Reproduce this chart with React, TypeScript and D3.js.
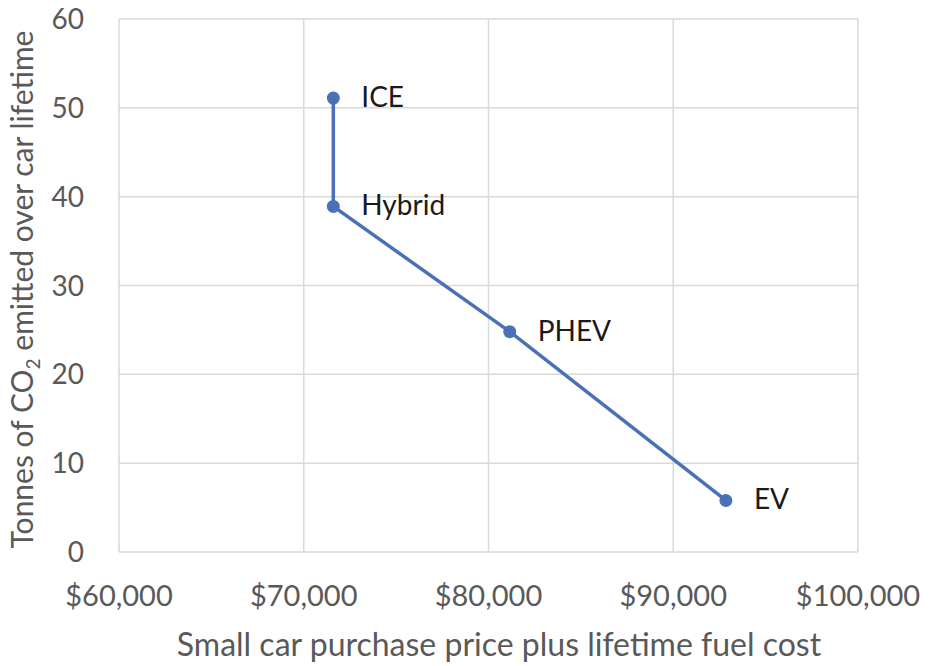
import { useEffect, useRef } from 'react';
import * as d3 from 'd3';

const carTypes = ['ICE', 'Hybrid', 'PHEV', 'EV'];
const lifetimeCost = [71600, 71600, 81150, 92850];
const tonnesCO2 = [51.1, 38.9, 24.8, 5.8];

const xTicks = [60000, 70000, 80000, 90000, 100000];
const yTicks = [0, 10, 20, 30, 40, 50, 60];

const WIDTH = 936;
const HEIGHT = 666;
const FONT = 'Lato, "Open Sans", sans-serif';
const BLUE = '#4a70b8';
const GREY_TEXT = '#595959';

export default function App() {
  const svgRef = useRef<SVGSVGElement>(null);

  useEffect(() => {
    if (!svgRef.current) return;
    const svg = d3.select(svgRef.current);
    svg.selectAll('*').remove();

    const margin = { top: 19, right: 78, bottom: 114, left: 119 };
    const innerWidth = WIDTH - margin.left - margin.right;
    const innerHeight = HEIGHT - margin.top - margin.bottom;

    const x = d3.scaleLinear().domain([60000, 100000]).range([0, innerWidth]);
    const y = d3.scaleLinear().domain([0, 60]).range([innerHeight, 0]);

    svg.append('rect')
      .attr('width', WIDTH)
      .attr('height', HEIGHT)
      .attr('fill', '#ffffff');

    const g = svg.append('g')
      .attr('transform', `translate(${margin.left},${margin.top})`);

    // gridlines
    g.selectAll('.vgrid')
      .data(xTicks)
      .join('line')
      .attr('x1', d => x(d))
      .attr('x2', d => x(d))
      .attr('y1', 0)
      .attr('y2', innerHeight)
      .attr('stroke', '#d9d9d9')
      .attr('stroke-width', 1.5);

    g.selectAll('.hgrid')
      .data(yTicks)
      .join('line')
      .attr('x1', 0)
      .attr('x2', innerWidth)
      .attr('y1', d => y(d))
      .attr('y2', d => y(d))
      .attr('stroke', '#d9d9d9')
      .attr('stroke-width', 1.5);

    // tick labels
    const fmt = d3.format('$,');
    g.selectAll('.xlab')
      .data(xTicks)
      .join('text')
      .attr('x', d => x(d))
      .attr('y', innerHeight + 54)
      .attr('text-anchor', 'middle')
      .attr('fill', GREY_TEXT)
      .attr('font-family', FONT)
      .attr('font-size', '29px')
      .text(d => fmt(d));

    g.selectAll('.ylab')
      .data(yTicks)
      .join('text')
      .attr('x', -35)
      .attr('y', d => y(d) + 10)
      .attr('text-anchor', 'end')
      .attr('fill', GREY_TEXT)
      .attr('font-family', FONT)
      .attr('font-size', '28px')
      .text(d => d);

    // axis titles
    svg.append('text')
      .attr('x', 499)
      .attr('y', 656)
      .attr('text-anchor', 'middle')
      .attr('fill', GREY_TEXT)
      .attr('font-family', FONT)
      .attr('font-size', '32px')
      .text('Small car purchase price plus lifetime fuel cost');

    const yTitle = svg.append('text')
      .attr('transform', `translate(33,${margin.top + innerHeight / 2 + 4}) rotate(-90)`)
      .attr('text-anchor', 'middle')
      .attr('fill', GREY_TEXT)
      .attr('font-family', FONT)
      .attr('font-size', '30px');
    yTitle.append('tspan').text('Tonnes of CO');
    yTitle.append('tspan').attr('font-size', '19px').attr('dy', 7).text('2');
    yTitle.append('tspan').attr('dy', -7).text(' emitted over car lifetime');

    // series
    const idx = d3.range(carTypes.length);
    const line = d3.line<number>()
      .x(i => x(lifetimeCost[i]))
      .y(i => y(tonnesCO2[i]));

    g.append('path')
      .datum(idx)
      .attr('d', line)
      .attr('fill', 'none')
      .attr('stroke', BLUE)
      .attr('stroke-width', 3.5);

    g.selectAll('.pt')
      .data(idx)
      .join('circle')
      .attr('cx', i => x(lifetimeCost[i]))
      .attr('cy', i => y(tonnesCO2[i]))
      .attr('r', 6.5)
      .attr('fill', BLUE);

    g.selectAll('.dl')
      .data(idx)
      .join('text')
      .attr('x', i => x(lifetimeCost[i]) + 28)
      .attr('y', i => y(tonnesCO2[i]) + 9)
      .attr('fill', '#1a1a1a')
      .attr('font-family', FONT)
      .attr('font-size', '28px')
      .text(i => carTypes[i]);
  }, []);

  return (
    <svg
      ref={svgRef}
      width={WIDTH}
      height={HEIGHT}
      style={{ position: 'absolute', left: 0, top: 0 }}
    />
  );
}
